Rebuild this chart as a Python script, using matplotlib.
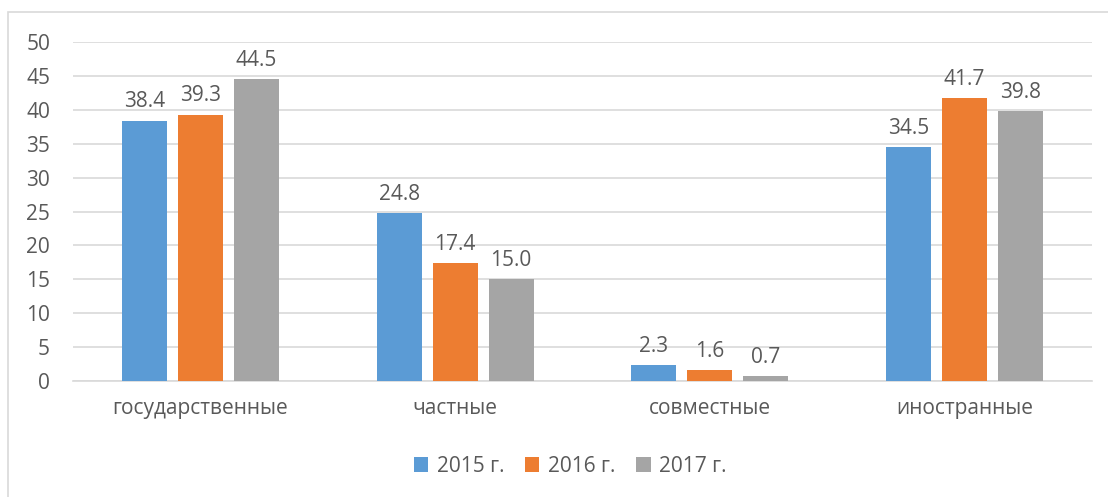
import matplotlib
matplotlib.use("Agg")
import matplotlib.pyplot as plt
import numpy as np
from matplotlib.patches import Rectangle

categories = ["государственные", "частные", "совместные", "иностранные"]
series_names = ["2015 г.", "2016 г.", "2017 г."]
v2015 = [38.4, 24.8, 2.3, 34.5]
v2016 = [39.3, 17.4, 1.6, 41.7]
v2017 = [44.5, 15.0, 0.7, 39.8]
yticks = [0, 5, 10, 15, 20, 25, 30, 35, 40, 45, 50]

colors = ["#5B9BD5", "#ED7D31", "#A5A5A5"]
txt = "#595959"
plt.rcParams['font.family'] = ['Open Sans', 'DejaVu Sans']
fs = 15

fig = plt.figure(figsize=(11.08, 4.97), dpi=100)
fig.patches.append(Rectangle((8/1108, -0.1), 1.2, 1 - 12/497 + 0.1, transform=fig.transFigure,
                             fill=False, edgecolor="#D9D9D9", linewidth=1.2))
ax = fig.add_axes([73/1108, 116/497, (1092-73)/1108, (455-116)/497])

x = np.arange(len(categories))
w = 0.177
step = 0.22
for i, (vals, name) in enumerate(zip([v2015, v2016, v2017], series_names)):
    pos = x + (i - 1) * step
    bars = ax.bar(pos, vals, width=w, color=colors[i], label=name, zorder=3)
    for b, v in zip(bars, vals):
        ax.annotate(f"{v:.1f}", (b.get_x() + b.get_width() / 2, v), xytext=(0, 6),
                    textcoords="offset points", ha="center", va="bottom",
                    fontsize=fs, color=txt)

ax.set_xlim(-0.5, len(categories) - 0.5)
ax.set_ylim(0, 50)
ax.set_yticks(yticks)
ax.set_xticks(x)
ax.set_xticklabels(categories)
ax.yaxis.grid(True, color="#D9D9D9", linewidth=1.2, zorder=0)
for s in ["top", "right", "left"]:
    ax.spines[s].set_visible(False)
ax.spines["bottom"].set_color("#D9D9D9")
ax.spines["bottom"].set_linewidth(1.2)
ax.tick_params(axis="both", length=0, labelsize=fs, labelcolor=txt)
ax.tick_params(axis="y", pad=16.5)
ax.tick_params(axis="x", pad=12)

leg = fig.legend(loc="center", bbox_to_anchor=(570/1108, 1 - 466/497), ncol=3, frameon=False,
                 fontsize=fs, handlelength=0.7, handleheight=0.7, columnspacing=1.0,
                 handletextpad=0.4, labelcolor=txt)

fig.savefig("out.png", dpi=100)
